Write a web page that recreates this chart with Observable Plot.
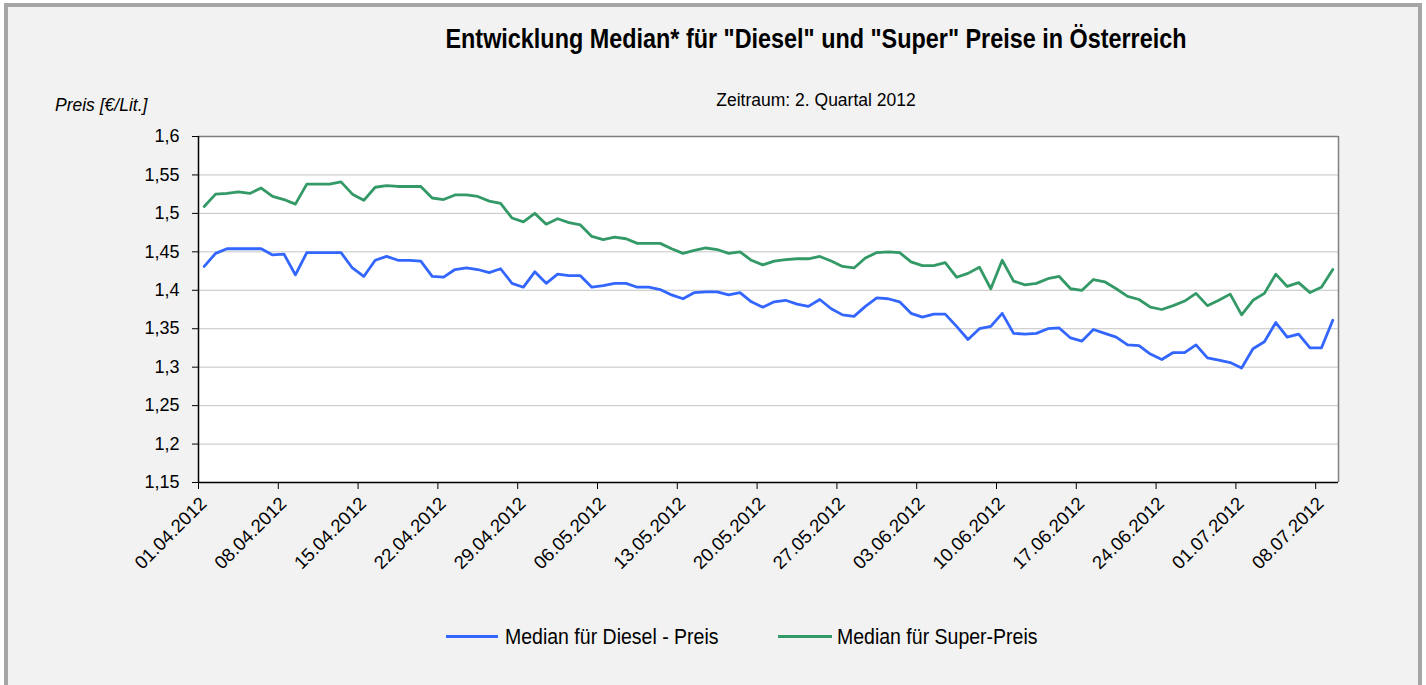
<!DOCTYPE html>
<html>
<head>
<meta charset="utf-8">
<script src="https://cdn.jsdelivr.net/npm/d3@7"></script>
<script src="https://cdn.jsdelivr.net/npm/@observablehq/plot@0.6"></script>
<style>
  html, body { margin: 0; padding: 0; background: #ffffff; }
  body { width: 1426px; height: 685px; position: relative; overflow: hidden;
         font-family: "Liberation Sans", Arial, sans-serif; color: #000; }
  #box { position: absolute; left: 4px; top: 3px; width: 1418px; height: 720px;
         box-sizing: border-box; border: 4px solid #a6a6a6; background: #f2f2f2; }
  #chart { position: absolute; left: 0; top: 0; }
  .txt { position: absolute; line-height: 1; white-space: nowrap; transform-origin: 50% 85%; }
  #title { left: 316px; width: 1000px; text-align: center; top: 29px; font-size: 23.4px; font-weight: bold; transform: scaleY(1.15); }
  #subtitle { left: 316px; width: 1000px; text-align: center; top: 92px; font-size: 17.5px; transform: scaleY(1.08); }
  #ylabel { left: 55px; top: 97px; font-size: 17.5px; font-style: italic; transform: scaleY(1.08); }
  .leg-line { position: absolute; height: 3px; }
  .leg-text { font-size: 19.5px; top: 628px; transform: scaleY(1.1); }
</style>
</head>
<body>
<div id="box"></div>
<div id="chart"></div>
<div class="txt" id="title">Entwicklung Median* für "Diesel" und "Super" Preise in Österreich</div>
<div class="txt" id="subtitle">Zeitraum: 2. Quartal 2012</div>
<div class="txt" id="ylabel">Preis [€/Lit.]</div>
<div class="leg-line" style="left:446px; top:635px; width:52px; background:#3366FF;"></div>
<div class="txt leg-text" style="left:505px;">Median für Diesel - Preis</div>
<div class="leg-line" style="left:778px; top:635px; width:54px; background:#339966;"></div>
<div class="txt leg-text" style="left:837px;">Median für Super-Preis</div>
<script>
// ---- data ----
const startLabel = "01.04.2012";
const endLabel = "10.07.2012";
const seriesNames = ["Median für Diesel - Preis", "Median für Super-Preis"];
const seriesColors = ["#3366FF", "#339966"];

const dieselPreis = [
  1.431, 1.448, 1.454, 1.454, 1.454, 1.454, 1.446, 1.447, 1.420, 1.449,
  1.449, 1.449, 1.449, 1.429, 1.418, 1.439, 1.444, 1.439, 1.439, 1.438,
  1.418, 1.417, 1.427, 1.429, 1.427, 1.423, 1.428, 1.409, 1.404, 1.424,
  1.409, 1.421, 1.419, 1.419, 1.404, 1.406, 1.409, 1.409, 1.404, 1.404,
  1.401, 1.394, 1.389, 1.397, 1.398, 1.398, 1.394, 1.397, 1.385, 1.378,
  1.385, 1.387, 1.382, 1.379, 1.388, 1.376, 1.368, 1.366, 1.379, 1.390,
  1.389, 1.385, 1.370, 1.365, 1.369, 1.369, 1.353, 1.336, 1.350, 1.353,
  1.370, 1.344, 1.343, 1.344, 1.350, 1.351, 1.338, 1.334, 1.349, 1.344,
  1.339, 1.329, 1.328, 1.317, 1.310, 1.319, 1.319, 1.329, 1.312, 1.309,
  1.306, 1.299, 1.324, 1.333, 1.358, 1.339, 1.343, 1.325, 1.325, 1.361
];

const superPreis = [
  1.509, 1.525, 1.526, 1.528, 1.526, 1.533, 1.522, 1.518, 1.512, 1.538,
  1.538, 1.538, 1.541, 1.525, 1.517, 1.534, 1.536, 1.535, 1.535, 1.535,
  1.520, 1.518, 1.524, 1.524, 1.522, 1.516, 1.513, 1.494, 1.489, 1.500,
  1.486, 1.493, 1.488, 1.485, 1.470, 1.466, 1.469, 1.467, 1.461, 1.461,
  1.461, 1.454, 1.448, 1.452, 1.455, 1.453, 1.448, 1.450, 1.439, 1.433,
  1.438, 1.440, 1.441, 1.441, 1.444, 1.438, 1.431, 1.429, 1.442, 1.449,
  1.450, 1.449, 1.437, 1.432, 1.432, 1.436, 1.417, 1.422, 1.430, 1.402,
  1.439, 1.412, 1.407, 1.409, 1.415, 1.418, 1.402, 1.400, 1.414, 1.411,
  1.402, 1.392, 1.388, 1.378, 1.375, 1.380, 1.386, 1.396, 1.380, 1.387,
  1.395, 1.368, 1.387, 1.396, 1.421, 1.405, 1.410, 1.397, 1.404, 1.427
];

const xTickLabels = [
  "01.04.2012", "08.04.2012", "15.04.2012", "22.04.2012", "29.04.2012",
  "06.05.2012", "13.05.2012", "20.05.2012", "27.05.2012", "03.06.2012",
  "10.06.2012", "17.06.2012", "24.06.2012", "01.07.2012", "08.07.2012"
];
const yTicks = [1.15, 1.2, 1.25, 1.3, 1.35, 1.4, 1.45, 1.5, 1.55, 1.6];
const yTickLabels = ["1,15", "1,2", "1,25", "1,3", "1,35", "1,4", "1,45", "1,5", "1,55", "1,6"];

// ---- build ----
const parse = d3.utcParse("%d.%m.%Y");
const start = parse(startLabel);
const end = parse(endLabel);
const tickDates = xTickLabels.map(parse);
// each daily value is centred in its day (Excel date axis)
const dayDate = i => d3.utcHour.offset(d3.utcDay.offset(start, i), 12);

const rows = [];
[dieselPreis, superPreis].forEach((vals, s) => {
  vals.forEach((v, i) => rows.push({date: dayDate(i), value: v, series: seriesNames[s]}));
});

const xLabel = d => xTickLabels[tickDates.findIndex(t => +t === +d)];

const chart = Plot.plot({
  width: 1426,
  height: 685,
  marginLeft: 198,
  marginRight: 88,
  marginTop: 136,
  marginBottom: 203,
  style: {background: "transparent", fontFamily: "'Liberation Sans', Arial, sans-serif", fontSize: "18px", color: "#000"},
  x: {type: "utc", domain: [start, end]},
  y: {domain: [1.15, 1.6]},
  color: {domain: seriesNames, range: seriesColors},
  marks: [
    Plot.frame({fill: "white", stroke: null}),
    Plot.gridY(yTicks, {stroke: "#c4c4c4", strokeOpacity: 1, strokeWidth: 1}),
    Plot.ruleY([1.6], {stroke: "#808080", strokeWidth: 1.5}),
    Plot.ruleX([end], {stroke: "#808080", strokeWidth: 1.5}),
    Plot.line(rows, {x: "date", y: "value", z: "series", stroke: "series", strokeWidth: 2.8, curve: "linear"}),
    Plot.axisY(yTicks, {tickFormat: d => yTickLabels[yTicks.indexOf(d)], tickSize: 6, tickPadding: 13, fontSize: 18, label: null, stroke: "#000"}),
    Plot.axisX(tickDates, {tickFormat: () => "", tickSize: 7, label: null, stroke: "#000"}),
    Plot.axisX(tickDates, {tickFormat: xLabel, tickRotate: -45, tickSize: 0, tickPadding: 18, dx: 5, fontSize: 18.5, label: null}),
    Plot.ruleX([start], {stroke: "#000", strokeWidth: 1.5}),
    Plot.ruleY([1.15], {stroke: "#000", strokeWidth: 1.5})
  ]
});
document.getElementById("chart").appendChild(chart);
</script>
</body>
</html>
